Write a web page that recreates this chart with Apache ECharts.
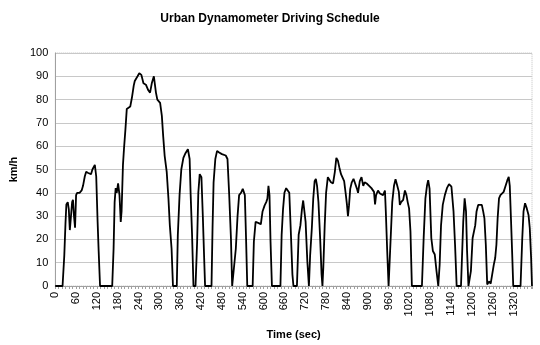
<!DOCTYPE html>
<html>
<head>
<meta charset="utf-8">
<script src="https://cdn.jsdelivr.net/npm/echarts@6/dist/echarts.min.js"></script>
<style>
html,body{margin:0;padding:0;background:#fff;}
#chart{width:540px;height:345px;}
</style>
</head>
<body>
<div id="chart"></div>
<script>
const titleText = "Urban Dynamometer Driving Schedule";
const xAxisName = "Time (sec)";
const yAxisName = "km/h";
const xTickStep = 60;
const xMax = 1373;
const yTicks = [0, 10, 20, 30, 40, 50, 60, 70, 80, 90, 100];

const timeSec = [
  0, 21, 26, 29.5, 32, 36, 39, 42, 45, 48.6, 51, 54, 57, 60, 63, 70, 76, 80, 85, 89,
  95, 99, 103, 107, 110, 114, 118, 122, 125, 129, 164, 168, 171, 174, 177, 181, 185, 188.6, 191, 195,
  198, 202, 206, 211, 216, 221, 226, 229, 232, 237, 242, 248, 254, 261, 268, 273, 278, 284, 290, 294,
  302, 307, 311, 315, 321, 326, 330, 335, 339, 350, 353, 358, 363, 369, 375, 382, 387, 390, 394, 398,
  404, 408.6, 412, 416, 421, 425, 428.6, 431.5, 450, 453, 456, 461, 466, 472, 480, 485, 491, 496, 501, 506,
  509.5, 515, 520, 525, 529.5, 535, 540, 546, 549.5, 553, 568.5, 572, 577, 582, 586, 592, 597, 603, 607.6, 611,
  614, 617, 620, 624, 648.5, 652, 656, 660, 665, 669.5, 674, 678, 683, 686, 696, 701, 706, 710.5, 714, 718,
  721, 726, 730.5, 734, 739, 743, 747, 750.5, 754, 758, 763, 767, 769.5, 772, 776, 780, 785, 789.5, 794, 800,
  805, 809.5, 814, 818, 823, 828, 832, 837, 840, 843, 846, 849.5, 854, 859, 864, 869, 872, 877, 882, 887,
  891, 897, 904, 910.5, 918, 921, 924, 929.5, 935, 940, 944, 949.5, 952, 956, 960, 963, 966, 970.5, 975.5, 980,
  985, 989.5, 992.4, 996, 1002, 1007, 1011.4, 1015, 1019, 1023, 1027, 1056, 1061, 1066, 1070.5, 1074, 1078, 1083, 1087.6, 1093,
  1098, 1103, 1107, 1111, 1116, 1122, 1128, 1134, 1141, 1147, 1151.4, 1156, 1168.5, 1175, 1179, 1183, 1186, 1190, 1192.4, 1197,
  1202, 1206, 1209.5, 1213.3, 1218, 1223, 1228.5, 1232.4, 1236, 1240, 1244, 1246, 1250, 1254, 1259, 1263, 1267, 1270.5, 1274, 1278,
  1282, 1286, 1291.4, 1297, 1302, 1306, 1309, 1312.4, 1316, 1319, 1340, 1345, 1348.6, 1353, 1358, 1363, 1366.6, 1370.5, 1373
];

const speedKmh = [
  0, 0, 13, 27, 35, 36, 33, 24, 24, 36, 37, 30, 25, 39, 40, 40, 41, 43, 47, 49,
  48.5, 49, 48, 50, 49.5, 52, 47, 27.5, 15, 0, 0, 16, 36, 42, 40, 44, 39, 27.5, 32, 52,
  59, 67, 76, 76, 77, 81, 86, 88, 88.5, 90, 91.3, 90.6, 87, 86.4, 84, 83, 87, 90, 83, 80,
  78.6, 73, 64, 56, 49, 37.5, 26, 16, 0, 0, 22, 39, 50, 55, 57, 58.7, 54.5, 39, 22, 0,
  0, 19, 40, 48, 46.7, 30, 13, 0, 0, 25, 44.5, 54.5, 58, 57.3, 56.6, 56, 56, 54.5, 39, 20.4,
  0, 0, 16, 30, 39, 40, 41.7, 39, 20.4, 0, 0, 19, 27.5, 28, 27, 26.5, 32, 34.6, 36, 37.5,
  43, 39, 19, 0, 0, 22, 33, 40, 42, 42.4, 40, 25, 5, 0, 0, 22, 26, 33, 36.7, 37.5,
  27.5, 10.5, 0, 13, 25, 37.5, 45, 46, 43, 36, 20, 5, 0, 8, 26, 40, 46.7, 46, 44.5, 44,
  48.8, 55, 53.8, 51, 48, 47.4, 45, 39, 35, 30, 34.6, 41.7, 44.5, 46, 46.7, 41.7, 40, 45, 46.7, 43,
  44.5, 44, 43, 42, 40.4, 35, 39, 41, 39.7, 39.7, 39, 41, 32, 15, 0, 0, 20.6, 36, 43, 45.8,
  43, 40.4, 34.8, 36, 37, 41, 39, 36, 33.3, 23.4, 0, 0, 20.6, 37.6, 43, 45.4, 41.8, 20.6, 15, 13.5,
  6.4, 0, 9, 26, 34.8, 39, 42, 43.7, 42.6, 32, 17.7, 0, 0, 27.7, 37.6, 32, 15, 0, 0, 6.4,
  20.6, 20.6, 26, 32, 34.8, 35.5, 34.8, 32, 29, 17.7, 0.7, 0, 2, 1, 0.7, 9.2, 12, 17.7, 29, 37.6,
  39, 38.3, 40.4, 43, 45.4, 46.8, 43, 29, 13.5, 0, 0, 20.6, 32, 35.5, 33.3, 30.5, 24.8, 12, 0
];

const seriesData = timeSec.map((t, i) => [t, speedKmh[i]]);

const chart = echarts.init(document.getElementById('chart'), null, {renderer: 'canvas'});
chart.setOption({
  animation: false,
  backgroundColor: '#ffffff',
  textStyle: {fontFamily: 'Liberation Sans, Arial, sans-serif'},
  title: {
    text: titleText,
    left: 'center',
    top: 8,
    textStyle: {fontSize: 12, fontWeight: 'bold', color: '#000', fontFamily: 'Liberation Sans, Arial, sans-serif'}
  },
  grid: {
    left: 52, right: 8, top: 53, bottom: 56,
    show: true, borderColor: '#c0c0c0', borderWidth: 1, borderType: 'dotted', backgroundColor: 'transparent'
  },
  xAxis: {
    type: 'value',
    min: 0,
    max: xMax,
    interval: xTickStep,
    name: xAxisName,
    nameLocation: 'middle',
    nameGap: 43,
    nameTextStyle: {fontSize: 11, fontWeight: 'bold', color: '#000'},
    axisLine: {show: true, onZero: false, lineStyle: {color: '#a0a0a0', width: 1}},
    axisTick: {show: true, length: 3, lineStyle: {color: '#a0a0a0'}},
    minorTick: {show: true, splitNumber: 6, length: 3, lineStyle: {color: '#a0a0a0'}},
    axisLabel: {rotate: 90, fontSize: 11, color: '#000', margin: 6, showMaxLabel: false,
      formatter: function (v) { return String(v); }},
    splitLine: {show: false}
  },
  yAxis: {
    type: 'value',
    min: yTicks[0],
    max: yTicks[yTicks.length - 1],
    interval: 10,
    name: yAxisName,
    nameLocation: 'middle',
    nameGap: 31,
    nameTextStyle: {fontSize: 11, fontWeight: 'bold', color: '#000'},
    axisLine: {show: true, lineStyle: {color: '#a0a0a0', width: 1}},
    axisTick: {show: false},
    axisLabel: {fontSize: 11, color: '#000', margin: 7,
      formatter: function (v) { return String(v); }},
    splitLine: {show: true, lineStyle: {color: '#c8c8c8', width: 1}}
  },
  series: [{
    type: 'line',
    data: seriesData,
    showSymbol: false,
    symbol: 'none',
    lineStyle: {color: '#000', width: 1.8},
    z: 3
  }]
});
</script>
</body>
</html>
